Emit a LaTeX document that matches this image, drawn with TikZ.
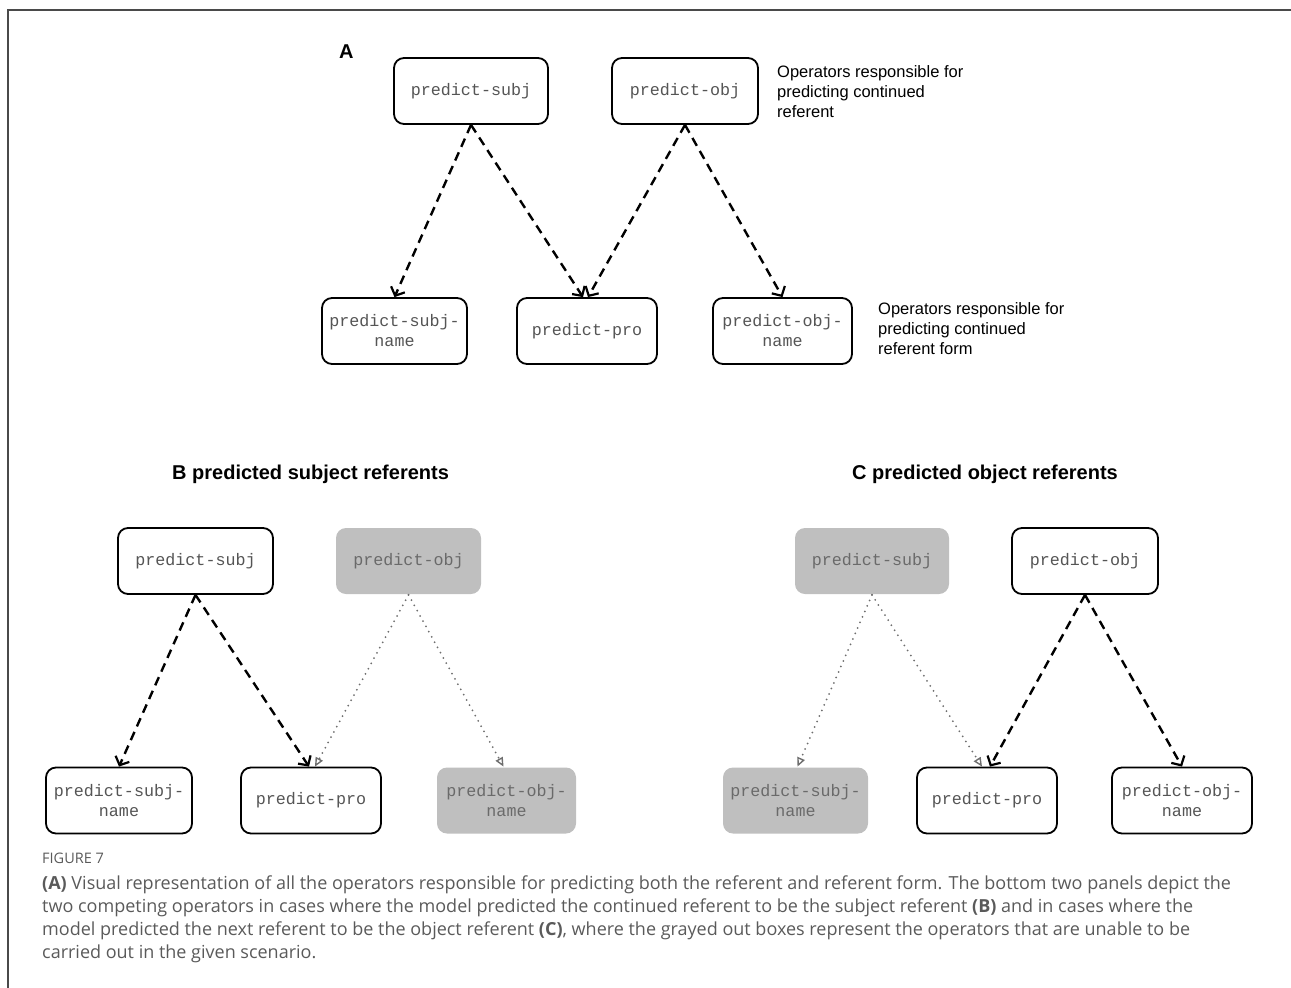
\documentclass[tikz,border=0pt]{standalone}
\usepackage{fontspec}
\setmainfont{Liberation Sans}
\newfontfamily\monof{Liberation Mono}
\newfontfamily\capf{Open Sans}
\usetikzlibrary{arrows.meta}
\definecolor{frm}{HTML}{4A4A4A}
\definecolor{txtg}{HTML}{555555}
\definecolor{offtxt}{HTML}{6A6A6A}
\definecolor{grayfill}{HTML}{BFBFBF}
\definecolor{grayline}{HTML}{6E6E6E}
\definecolor{captxt}{HTML}{5A5A5A}
\begin{document}
\begin{tikzpicture}[x=1pt,y=-1pt,
 opbox/.style={draw=black, line width=1.8pt, rounded corners=10pt, fill=white, minimum height=66pt, inner sep=0pt, align=center, font=\monof\fontsize{16.7}{20}\selectfont, text=txtg},
 offbox/.style={opbox, draw=none, fill=grayfill, text=offtxt},
 act/.style={line width=2.4pt, dash pattern=on 9pt off 6pt, -{Straight Barb[length=7pt,width=15pt,line width=2.2pt]}},
 inact/.style={grayline, line width=2pt, dash pattern=on 0pt off 6pt, line cap=round, -{Triangle[open,length=9pt,width=8pt,line width=1.4pt,line cap=butt]}},
 note/.style={anchor=base west, align=left, inner sep=0pt, font=\fontsize{16.5}{20}\selectfont},
 ptitle/.style={anchor=base west, inner sep=0pt, font=\bfseries\fontsize{20}{22}\selectfont},
 capline/.style={anchor=base west, inner sep=0pt, text=captxt, font=\capf\fontsize{18}{23}\selectfont}
]
\useasboundingbox (0,0) rectangle (1291,988);
% frame
\draw[frm, line width=1.5pt] (7,10) -- (1291,10);
\draw[frm, line width=1.5pt] (8,10) -- (8,988);

% Panel A
\node[ptitle] (lA) at (339,58) {A};
\node[opbox, minimum width=154pt] (aS) at (471,91) {predict-subj};
\node[opbox, minimum width=146pt] (aO) at (685,91) {predict-obj};
\node[opbox, minimum width=145pt] (aSN) at (394.5,331) {predict-subj-\\name};
\node[opbox, minimum width=140pt] (aP) at (587,331) {predict-pro};
\node[opbox, minimum width=139pt] (aON) at (782.5,331) {predict-obj-\\name};
\draw[act] (aS.south) -- (aSN.north);
\draw[act] (aS.south) -- ([xshift=-4pt]aP.north);
\draw[act] (aO.south) -- ([xshift=1pt]aP.north);
\draw[act] (aO.south) -- (aON.north);
\node[note] (n1) at (777,117) {Operators responsible for\\predicting continued\\referent};
\node[note] (n2) at (878,354) {Operators responsible for\\predicting continued\\referent form};

% Panel B
\node[ptitle] (lB) at (172,479) {B predicted subject referents};
\node[opbox, minimum width=155pt] (bS) at (195.5,561) {predict-subj};
\node[offbox, minimum width=145pt] (bO) at (408.5,561) {predict-obj};
\node[opbox, minimum width=146pt] (bSN) at (119,800.5) {predict-subj-\\name};
\node[opbox, minimum width=140pt] (bP) at (311,800.5) {predict-pro};
\node[offbox, minimum width=139pt] (bON) at (506.5,800.5) {predict-obj-\\name};
\draw[act] (bS.south) -- (bSN.north);
\draw[act] (bS.south) -- ([xshift=-2pt]bP.north);
\draw[inact] (bO.south) -- ([xshift=4pt]bP.north);
\draw[inact] (bO.south) -- ([xshift=-3pt]bON.north);

% Panel C
\node[ptitle] (lC) at (852,479) {C predicted object referents};
\node[offbox, minimum width=154pt] (cS) at (872,561) {predict-subj};
\node[opbox, minimum width=146pt] (cO) at (1085,561) {predict-obj};
\node[offbox, minimum width=145pt] (cSN) at (795.5,800.5) {predict-subj-\\name};
\node[opbox, minimum width=140pt] (cP) at (987,800.5) {predict-pro};
\node[opbox, minimum width=140pt] (cON) at (1182,800.5) {predict-obj-\\name};
\draw[inact] (cS.south) -- ([xshift=2pt]cSN.north);
\draw[inact] (cS.south) -- ([xshift=-5pt]cP.north);
\draw[act] (cO.south) -- ([xshift=3pt]cP.north);
\draw[act] (cO.south) -- (cON.north);

% Caption
\node[anchor=base west, inner sep=0pt, text=captxt, font=\capf\fontsize{14.5}{16}\selectfont] (fig) at (42,863) {FIGURE 7};
\node[capline] (c1) at (42,889) {\textbf{(A)} Visual representation of all the operators responsible for predicting both the referent and referent form. The bottom two panels depict the};
\node[capline] (c2) at (42,912) {two competing operators in cases where the model predicted the continued referent to be the subject referent \textbf{(B)} and in cases where the};
\node[capline] (c3) at (42,935) {model predicted the next referent to be the object referent \textbf{(C)}, where the grayed out boxes represent the operators that are unable to be};
\node[capline] (c4) at (42,958) {carried out in the given scenario.};
\end{tikzpicture}
\end{document}
